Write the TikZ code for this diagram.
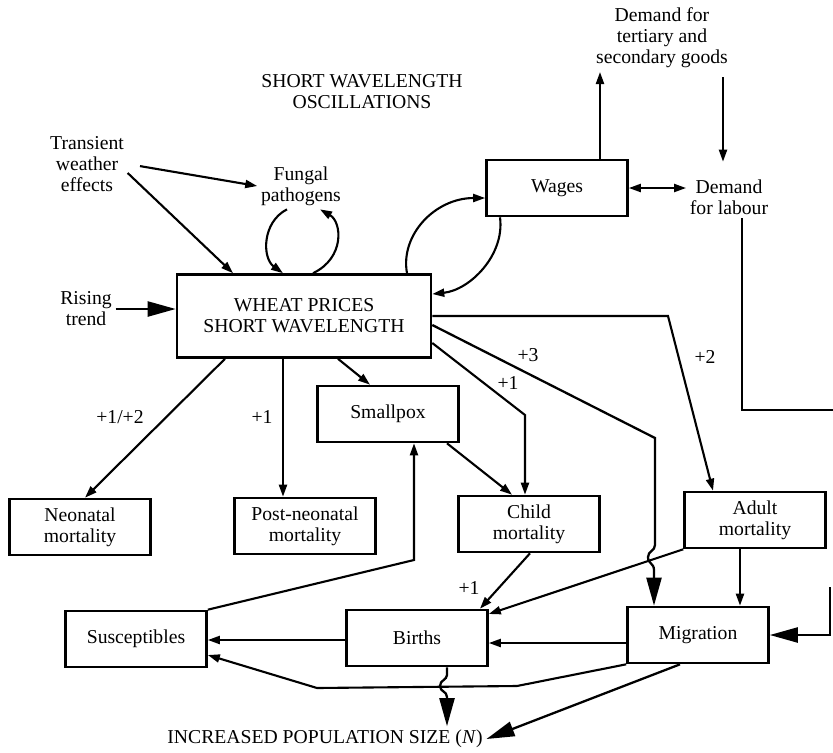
\documentclass[tikz,border=0pt]{standalone}
\usepackage{fontspec}
\setmainfont{Liberation Serif}
\usetikzlibrary{arrows.meta}

\begin{document}
\begin{tikzpicture}[x=0.02cm, y=-0.02cm,
	font=\fontsize{11.2}{12}\selectfont,
	box/.style={draw, line width=1.5pt, minimum width=2.82cm, minimum height=1.12cm, align=center, inner sep=2pt},
	txt/.style={align=center, inner sep=2pt},
	flow/.style={line width=1.2pt, -{Triangle[length=0.24cm, width=0.16cm]}},
	bigflow/.style={line width=1.3pt, -{Triangle[length=0.56cm, width=0.3cm]}}]
	\useasboundingbox (0,0) rectangle (833,752);

	\node[txt] (title) at (362,92) {SHORT WAVELENGTH\\OSCILLATIONS};
	\node[txt] (weather) at (87,164) {Transient\\weather\\effects};
	\node[txt] (fungal) at (301,186) {Fungal\\pathogens};
	\node[txt] (rising) at (86,309) {Rising\\trend};
	\node[txt] (goods) at (662,38) {Demand for\\tertiary and\\secondary goods};
	\node[txt] (labour) at (729,197) {Demand\\for labour};
	\node[txt] (popsize) at (325,739) {INCREASED POPULATION SIZE (\textit{N})};

	\node[box, minimum width=5.08cm, minimum height=1.66cm] (wheat) at (304,316) {WHEAT PRICES\\SHORT WAVELENGTH};
	\node[box] (wages) at (557,188) {Wages};
	\node[box] (smallpox) at (388,414) {Smallpox};
	\node[box] (neonatal) at (80,527) {Neonatal\\mortality};
	\node[box] (postneo) at (305,526) {Post-neonatal\\mortality};
	\node[box] (child) at (529,524) {Child\\mortality};
	\node[box] (adult) at (755,520) {Adult\\mortality};
	\node[box] (suscept) at (136,639) {Susceptibles};
	\node[box] (births) at (417,638) {Births};
	\node[box] (migration) at (698,635) {Migration};

	\node (l1) at (120,417) {+1/+2};
	\node (l2) at (262,417) {+1};
	\node (l3) at (508,383) {+1};
	\node (l4) at (528,355) {+3};
	\node (l5) at (705,357) {+2};
	\node (l6) at (469,588) {+1};

	\draw[flow, shorten <=0.25cm] (weather.east) -- (fungal.west);
	\draw[flow] ([yshift=-0.18cm]weather.east) -- (wheat.north -| 233,0);
	\draw[bigflow] (rising.east) -- (wheat.west |- rising.east);
	\draw[flow] (fungal.south -| 287,0) .. controls (262,222) and (262,258) .. (wheat.north -| 283,0);
	\draw[flow] (wheat.north -| 313,0) .. controls (345,258) and (342,222) .. (fungal.south -| 320,0);

	\draw[flow] (wheat.north -| 407,0) .. controls (400,235) and (435,198) .. (wages.west |- 0,198);
	\draw[flow] (wages.south -| 500,0) .. controls (505,255) and (470,290) .. (wheat.east |- 0,294);
	\draw[flow] (wages.north -| 600,0) -- (goods.south -| 600,0);
	\draw[flow, shorten <=0.1cm, shorten >=0.28cm] (goods.south -| 723,0) -- (labour.north -| 723,0);
	\draw[flow, {Triangle[length=0.24cm, width=0.16cm]}-{Triangle[length=0.24cm, width=0.16cm]}] (wages.east) -- (wages.east -| labour.west);
	\draw[line width=1.2pt] (labour.south -| 742,0) -- (742,410) -- (833,410);
	\coordinate (back) at (830,587);
	\draw[bigflow] (back) -- (830,635) -- (migration.east |- 0,635);

	\draw[flow] (wheat.south -| 225,0) -- (neonatal.north -| 85,0);
	\draw[flow] (wheat.south -| 283,0) -- (postneo.north -| 283,0);
	\draw[flow] (wheat.south -| 338,0) -- (smallpox.north -| 370,0);
	\draw[flow] (wheat.east |- 0,343) -- (525,415) -- (child.north -| 525,0);
	\draw[bigflow] (wheat.east |- 0,325) -- (655,438) -- (655,545)
		.. controls (655,551) and (648,551) .. (648,557)
		.. controls (648,564) and (654,563) .. (654,570) -- (migration.north -| 654,0);
	\draw[flow] (wheat.east) -- (668,316) -- (adult.north -| 713,0);

	\draw[flow] (smallpox.south -| 447,0) -- (child.north -| 512,0);
	\draw[flow] (suscept.north east) -- (414,560) -- (smallpox.south -| 414,0);
	\draw[flow] (child.south -| 530,0) -- (births.north -| 480,0);
	\draw[flow] (adult.south west) -- (births.east |- 0,614);
	\draw[flow] (adult.south -| 740,0) -- (migration.north -| 740,0);
	\draw[flow] (migration.west |- 0,643) -- (births.east |- 0,643);
	\draw[flow] (births.west |- 0,640) -- (suscept.east |- 0,640);
	\draw[flow] (migration.south west) -- (517,686) -- (317,688) -- (suscept.east |- 0,655);
	\draw[bigflow] (births.south -| 447,0) -- (447,675)
		.. controls (447,680) and (440,680) .. (440,686)
		.. controls (440,692) and (447,691) .. (447,697) -- (popsize.north -| 447,0);
	\draw[bigflow] (migration.south -| 680,0) -- (popsize.east);

\end{tikzpicture}
\end{document}
